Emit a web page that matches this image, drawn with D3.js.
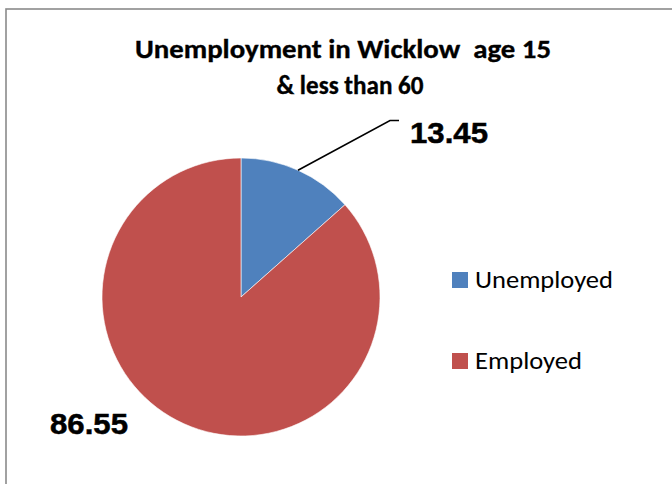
<!DOCTYPE html>
<html>
<head>
<meta charset="utf-8">
<script src="https://cdn.jsdelivr.net/npm/d3@7"></script>
<style>
  html, body { margin: 0; padding: 0; background: #fff; }
  svg { display: block; }
</style>
</head>
<body>
<svg id="chart" width="672" height="484"></svg>
<script>
// ---- data ----
const categories = ["Unemployed", "Employed"];
const values = [13.45, 86.55];
const valueLabels = ["13.45", "86.55"];
const colors = ["#4F81BD", "#C0504D"];
const titleLines = ["Unemployment in Wicklow  age 15", "& less than 60"];

// ---- layout ----
const W = 672, H = 484;
const cx = 241, cy = 297, R = 139;
const svg = d3.select("#chart");

// outer chart border
svg.append("rect")
  .attr("x", 6).attr("y", 9)
  .attr("width", W + 10).attr("height", H + 10)
  .attr("fill", "#fff")
  .attr("stroke", "#8a8a8a").attr("stroke-width", 1.6);

// title
const titleSpec = [
  { x: 343, y: 58, w: 416 },
  { x: 350, y: 93.5, w: 147 }
];
titleLines.forEach((t, i) => {
  svg.append("text")
    .attr("x", titleSpec[i].x).attr("y", titleSpec[i].y)
    .attr("text-anchor", "middle")
    .attr("font-family", "Carlito, Calibri, Lato, sans-serif")
    .attr("font-weight", "bold")
    .attr("font-size", 26.5)
    .attr("fill", "#000")
    .attr("stroke", "#000").attr("stroke-width", 0.35)
    .attr("textLength", titleSpec[i].w)
    .attr("lengthAdjust", "spacingAndGlyphs")
    .style("white-space", "pre")
    .text(t);
});

// pie
const pie = d3.pie().sort(null).value(d => d)(values);
const arc = d3.arc().innerRadius(0).outerRadius(R);
const g = svg.append("g").attr("transform", `translate(${cx},${cy})`);
g.selectAll("path").data(pie).enter().append("path")
  .attr("d", arc)
  .attr("fill", (d, i) => colors[i])
  .attr("stroke", "#fff").attr("stroke-width", 0.6);

// leader line for first slice
const a0 = (pie[0].startAngle + pie[0].endAngle) / 2;
const sx = cx + R * Math.sin(a0), sy = cy - R * Math.cos(a0);
svg.append("polyline")
  .attr("points", `${sx},${sy} 390,120.5 399,120.5`)
  .attr("fill", "none").attr("stroke", "#000").attr("stroke-width", 1.6);

// data labels
const labelPos = [{ x: 410, y: 143 }, { x: 50, y: 434 }];
valueLabels.forEach((t, i) => {
  svg.append("text")
    .attr("x", labelPos[i].x).attr("y", labelPos[i].y)
    .attr("font-family", "Liberation Sans, Arial, sans-serif")
    .attr("font-weight", "bold")
    .attr("font-size", 29)
    .attr("textLength", 78)
    .attr("lengthAdjust", "spacingAndGlyphs")
    .attr("fill", "#000")
    .attr("stroke", "#000").attr("stroke-width", 0.5)
    .text(t);
});

// legend
const legendY = [272, 353];
const legendW = [138, 107];
categories.forEach((c, i) => {
  svg.append("rect")
    .attr("x", 452).attr("y", legendY[i])
    .attr("width", 16).attr("height", 16)
    .attr("fill", colors[i]);
  svg.append("text")
    .attr("x", 475).attr("y", legendY[i] + 15.5)
    .attr("font-family", "Carlito, Calibri, Lato, sans-serif")
    .attr("font-size", 25.5)
    .attr("textLength", legendW[i])
    .attr("lengthAdjust", "spacingAndGlyphs")
    .attr("fill", "#000")
    .text(c);
});
</script>
</body>
</html>
